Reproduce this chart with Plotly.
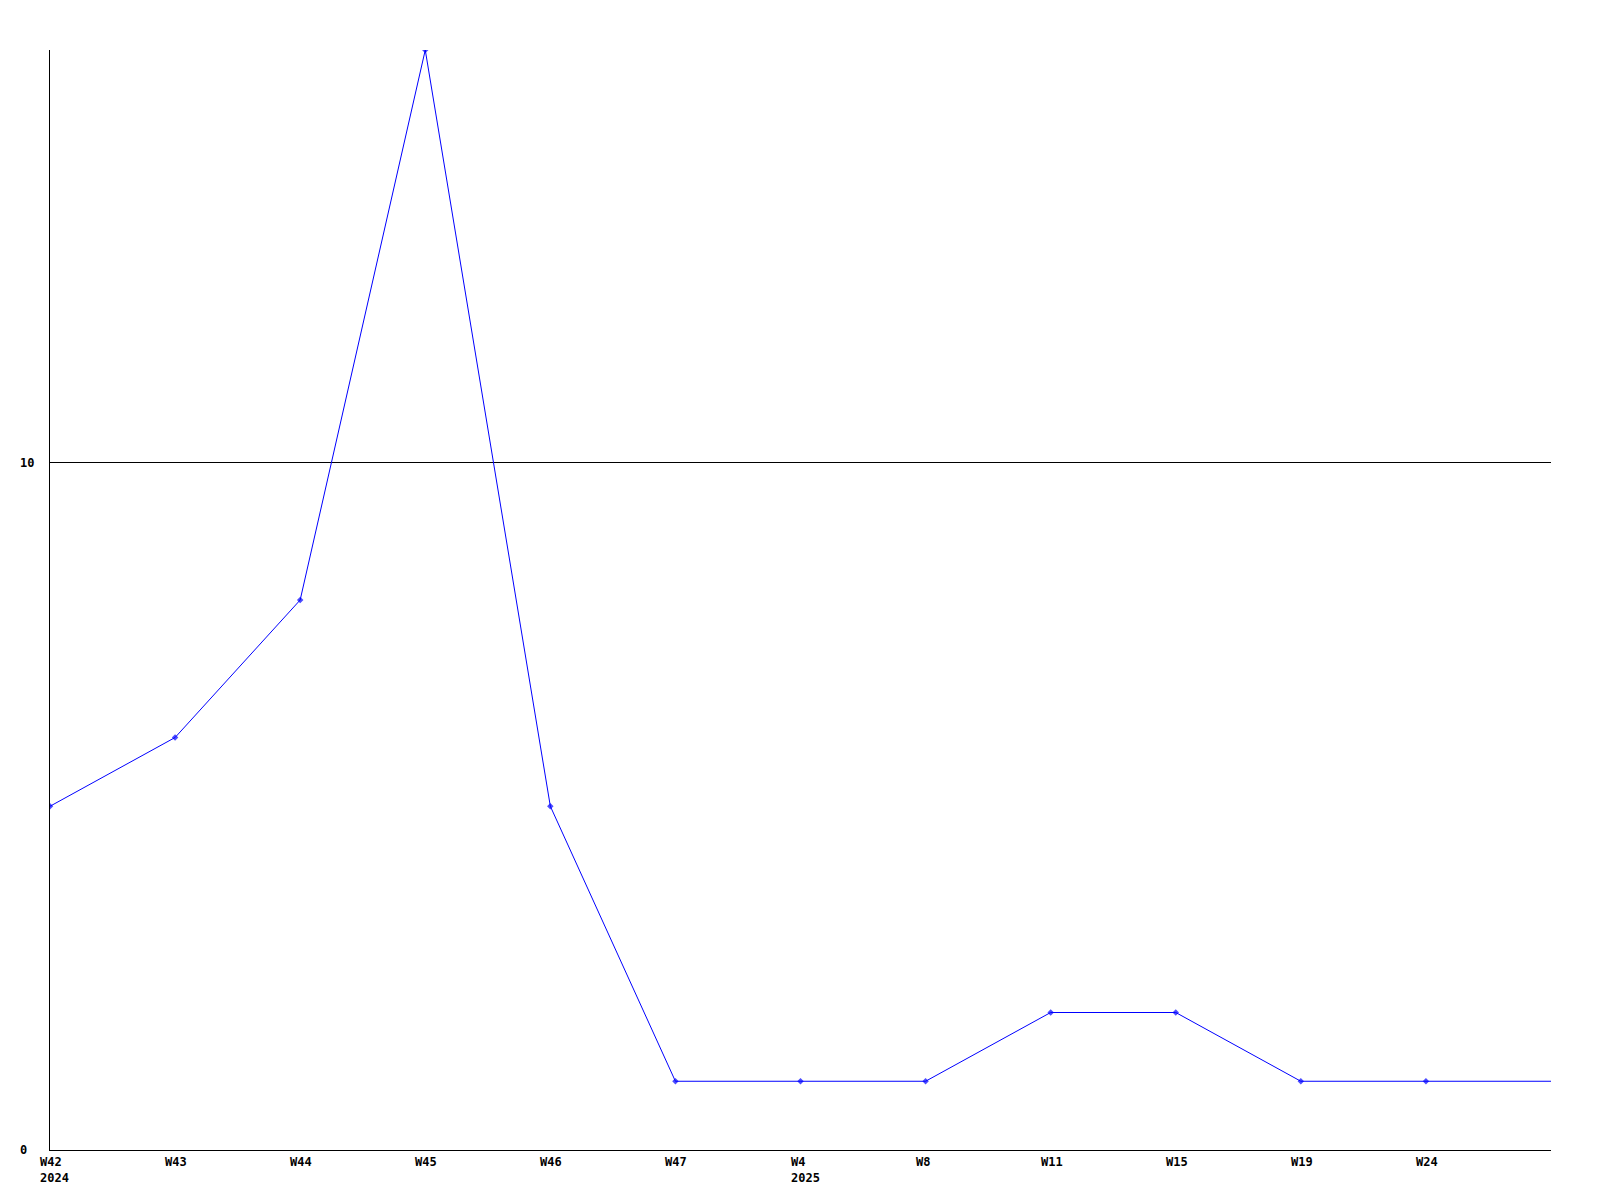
import plotly.graph_objects as go

week_labels = ["W42", "W43", "W44", "W45", "W46", "W47", "W4", "W8", "W11", "W15", "W19", "W24", ""]
year_labels = ["2024", "", "", "", "", "", "2025", "", "", "", "", "", ""]
values = [5, 6, 8, 16, 5, 1, 1, 1, 2, 2, 1, 1, 1]
y_ticks = [0, 10]

x = list(range(len(values)))
marker_sizes = [5] * (len(values) - 1) + [0]

fig = go.Figure()
fig.add_trace(go.Scatter(
    x=x, y=values, mode="lines+markers",
    line=dict(color="#0000ff", width=1),
    marker=dict(symbol="diamond", size=marker_sizes, color="#0000ff", line=dict(width=0)),
    showlegend=False, hoverinfo="skip",
))

font = dict(family="DejaVu Sans Mono", size=12, color="black")
annotations = []
for i, (w, yr) in enumerate(zip(week_labels, year_labels)):
    if not w:
        continue
    txt = w if not yr else f"{w}<br>{yr}"
    annotations.append(dict(
        x=i, y=0, xref="x", yref="y", text=f"<b>{txt}</b>", showarrow=False,
        xanchor="left", yanchor="top", align="left", xshift=-12, yshift=-3, font=font,
    ))
for v in y_ticks:
    annotations.append(dict(
        x=0, y=v, xref="paper", yref="y", text=f"<b>{v}</b>", showarrow=False,
        xanchor="left", yanchor="middle", align="left", xshift=-32, yshift=0, font=font,
    ))

fig.update_layout(
    width=1600, height=1200,
    margin=dict(l=42, r=57, t=42, b=58),
    paper_bgcolor="white", plot_bgcolor="white",
    annotations=annotations,
    xaxis=dict(range=[0, len(values) - 1], showgrid=False, zeroline=False,
               showline=True, linecolor="black", linewidth=1, showticklabels=False, ticks=""),
    yaxis=dict(range=[0, 16], tickvals=y_ticks, showgrid=True, gridcolor="black", gridwidth=1,
               zeroline=False, showline=True, linecolor="black", linewidth=1,
               showticklabels=False, ticks=""),
)

fig.write_html("out.html")
